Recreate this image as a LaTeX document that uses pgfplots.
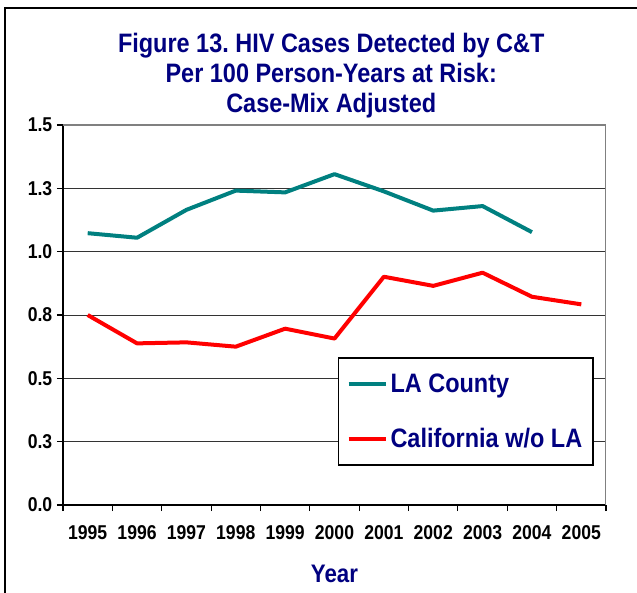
\documentclass[border=0pt]{standalone}
\usepackage{fontspec}
\setmainfont[FakeStretch=0.88]{Liberation Sans}
\usepackage{pgfplots}
\pgfplotsset{compat=1.18}
\definecolor{navy}{HTML}{000080}
\definecolor{lateal}{HTML}{008080}
\definecolor{cared}{HTML}{FF0000}
\frenchspacing

\begin{document}
\begin{tikzpicture}
% page = 637x593 px, 1px = 0.75pt, plot area lower left at px (63,505)
\useasboundingbox (-47.25pt,-66pt) rectangle (430.5pt,378.75pt);
\draw[line width=1.2pt] (-43.5pt,-66pt) -- (-43.5pt,372.75pt) -- (430.5pt,372.75pt);
\begin{axis}[
    at={(0,0)}, anchor=south west,
    scale only axis,
    width=407.25pt, height=285pt,
    xmin=0.5, xmax=11.5,
    ymin=0, ymax=1.5,
    axis lines=left,
    axis line style={-, black, line width=0.8pt},
    xtick={1,...,11},
    xticklabels={1995,1996,1997,1998,1999,2000,2001,2002,2003,2004,2005},
    minor xtick={0.5,1.5,...,11.5},
    major x tick style={draw=none},
    minor tick length=4.5pt,
    ytick={0,0.25,0.5,0.75,1,1.25,1.5},
    yticklabels={0.0,0.3,0.5,0.8,1.0,1.3,1.5},
    major tick length=4.5pt,
    tick align=outside,
    tick style={black, line width=0.8pt},
    ymajorgrids,
    grid style={black!80, line width=0.6pt},
    ticklabel style={font=\fontsize{15}{18}\selectfont\bfseries},
    xticklabel style={yshift=-7.5pt},
    xlabel={Year},
    xlabel style={font=\fontsize{19}{22}\selectfont\bfseries, text=navy, yshift=-12pt},
    title={Figure 13. HIV Cases Detected by C\&T\\Per 100 Person-Years at Risk:\\Case-Mix Adjusted},
    title style={font=\fontsize{20}{22.5}\selectfont\bfseries, text=navy, align=center,
        at={(0.494,1)}, anchor=south, yshift=-4.5pt},
    legend style={at={(0.506,0.389)}, anchor=north west, draw=black, line width=1.2pt,
        font=\fontsize{20}{24}\selectfont\bfseries, text=navy, row sep=21pt,
        inner xsep=6pt, inner ysep=10pt},
    legend cell align=left,
    legend image code/.code={\draw[#1] (0pt,0pt) -- (28pt,0pt);},
]
\draw[gray, line width=0.8pt] (rel axis cs:0,1) -- (rel axis cs:1,1) -- (rel axis cs:1,0);
\addplot[lateal, line width=3pt, line join=round] coordinates {
    (1,1.073) (2,1.055) (3,1.165) (4,1.241) (5,1.234) (6,1.306)
    (7,1.238) (8,1.162) (9,1.180) (10,1.077)
};
\addlegendentry{LA County}
\addplot[cared, line width=3pt, line join=round] coordinates {
    (1,0.750) (2,0.638) (3,0.642) (4,0.625) (5,0.696) (6,0.657)
    (7,0.901) (8,0.865) (9,0.917) (10,0.822) (11,0.792)
};
\addlegendentry{California w/o LA}
\end{axis}
\end{tikzpicture}
\end{document}
